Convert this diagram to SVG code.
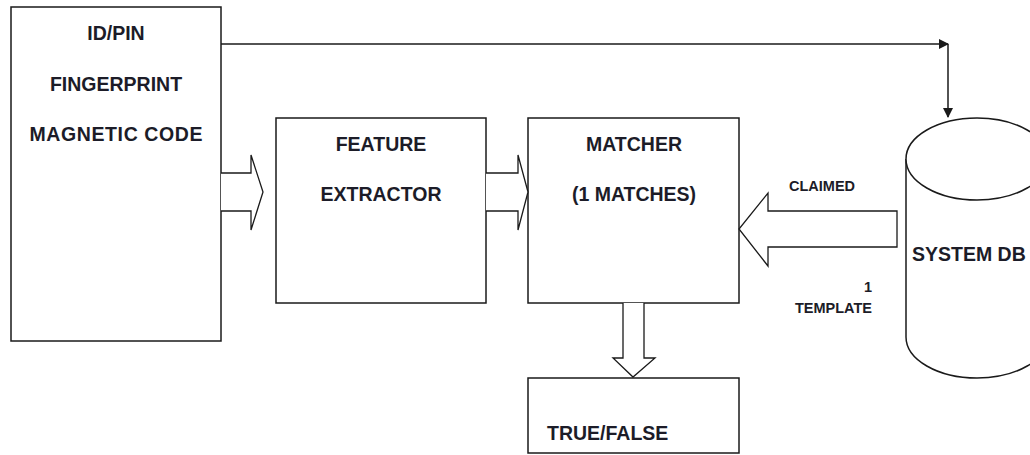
<svg xmlns="http://www.w3.org/2000/svg" width="1030" height="455" viewBox="0 0 1030 455">
  <style>
    .box { fill: #ffffff; stroke: #1a1a1a; stroke-width: 1.5; }
    .blk { fill: #ffffff; stroke: #1a1a1a; stroke-width: 1.3; stroke-linejoin: miter; }
    .wire { fill: none; stroke: #1a1a1a; stroke-width: 1.5; }
    .lbl { font-family: "Liberation Sans", Arial, sans-serif; font-weight: bold; fill: #1c1c28; }
    .big { font-size: 19.5px; }
    .small { font-size: 14.5px; }
  </style>
  <defs>
    <marker id="tri" markerWidth="10" markerHeight="10" refX="9" refY="5" orient="auto" markerUnits="userSpaceOnUse">
      <path d="M0,0 L10,5 L0,10 Z" fill="#1a1a1a"/>
    </marker>
  </defs>

  <rect width="1030" height="455" fill="#ffffff"/>

  <!-- Input source -->
  <g id="input">
    <rect class="box" x="11" y="7" width="210" height="334"/>
    <text class="lbl big" x="116" y="40" text-anchor="middle">ID/PIN</text>
    <text class="lbl big" x="116" y="91" text-anchor="middle">FINGERPRINT</text>
    <text class="lbl big" x="116" y="141" text-anchor="middle" textLength="173">MAGNETIC CODE</text>
  </g>

  <!-- Feature extractor -->
  <g id="extractor">
    <rect class="box" x="276" y="118" width="210" height="185"/>
    <text class="lbl big" x="381" y="151" text-anchor="middle">FEATURE</text>
    <text class="lbl big" x="381" y="201" text-anchor="middle">EXTRACTOR</text>
  </g>

  <!-- Matcher -->
  <g id="matcher">
    <rect class="box" x="528" y="118" width="211" height="185"/>
    <text class="lbl big" x="634" y="151" text-anchor="middle">MATCHER</text>
    <text class="lbl big" x="634" y="201" text-anchor="middle">(1 MATCHES)</text>
  </g>

  <!-- Result -->
  <g id="result">
    <rect class="box" x="528" y="378" width="211" height="75"/>
    <text class="lbl big" x="547" y="440">TRUE/FALSE</text>
  </g>

  <!-- Database cylinder -->
  <g id="database">
    <path class="box" d="M906,159 L906,337 A71,41 0 0 0 1048,337 L1048,159"/>
    <ellipse class="box" cx="977" cy="159" rx="71" ry="41"/>
    <text class="lbl big" x="912" y="261">SYSTEM DB</text>
  </g>

  <!-- Connectors -->
  <g id="connectors">
    <!-- ID line to database -->
    <polyline class="wire" points="221,44 948,44" marker-end="url(#tri)"/>
    <polyline class="wire" points="948,44 948,117" marker-end="url(#tri)"/>

    <!-- input -> extractor -->
    <path class="blk" d="M221,173 L251,173 L251,155 L263,192 L251,230 L251,211 L221,211"/>
    <!-- extractor -> matcher -->
    <path class="blk" d="M486,173 L518,173 L518,155 L528,192 L518,230 L518,211 L486,211"/>
    <!-- database -> matcher -->
    <path class="blk" d="M897,211 L768,211 L768,193 L739,229 L768,266 L768,247 L897,247 Z"/>
    <!-- matcher -> result -->
    <path class="blk" d="M623,303 L623,358 L613,358 L633,377 L655,358 L644,358 L644,303"/>

    <text class="lbl small" x="789" y="191">CLAIMED</text>
    <text class="lbl small" x="872" y="292" text-anchor="end">1</text>
    <text class="lbl small" x="872" y="313" text-anchor="end">TEMPLATE</text>
  </g>
</svg>
